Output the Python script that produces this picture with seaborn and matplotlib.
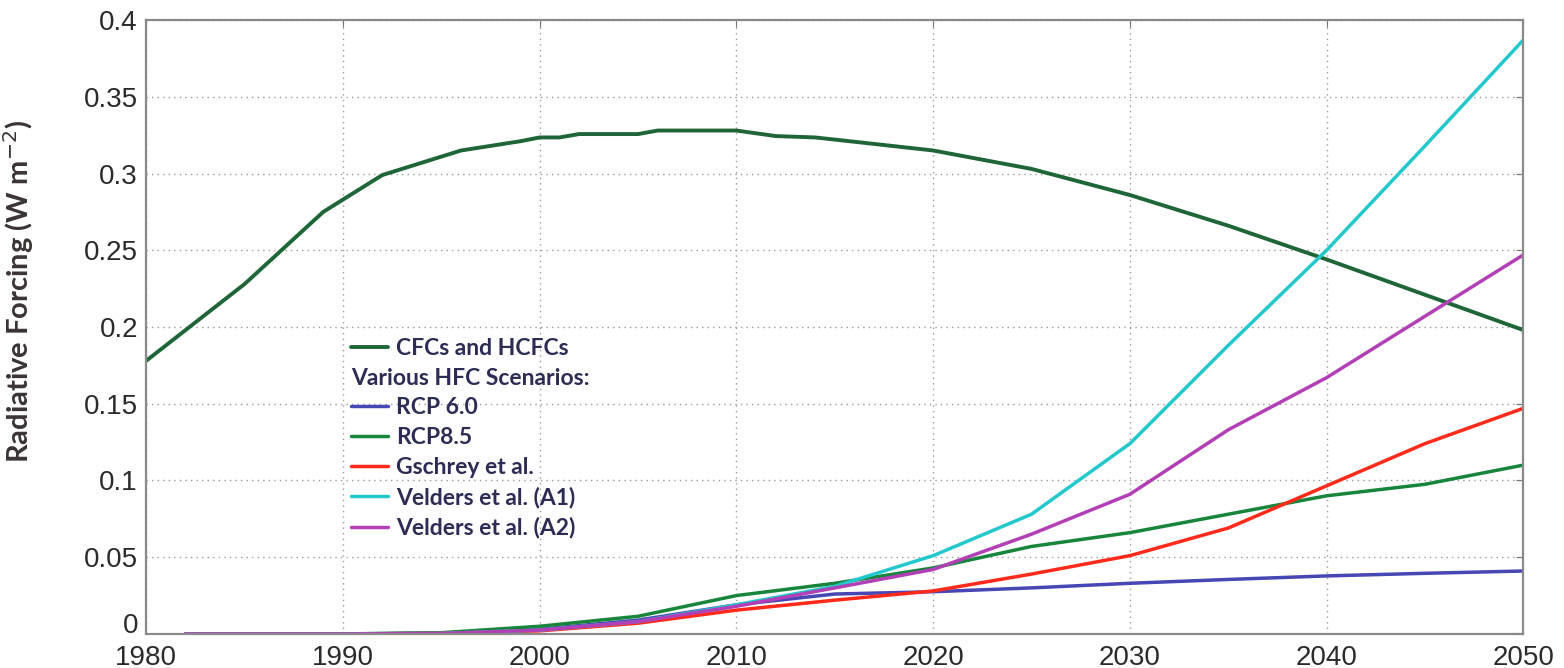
import numpy as np
import pandas as pd
import matplotlib
matplotlib.use("Agg")
import matplotlib.pyplot as plt
import matplotlib.transforms as mtransforms
from matplotlib.lines import Line2D
from matplotlib.ticker import FuncFormatter
import seaborn as sns

# CFCs and HCFCs
cfc_years = [1980, 1985, 1989, 1992, 1996, 1999, 2000, 2001, 2002, 2005, 2006, 2010,
             2012, 2014, 2016, 2020, 2025, 2030, 2035, 2040, 2045, 2050]
cfc_vals = [0.178, 0.228, 0.275, 0.299, 0.315, 0.321, 0.3235, 0.3235, 0.3257, 0.3257, 0.328, 0.328,
            0.3244, 0.3235, 0.3207, 0.315, 0.303, 0.286, 0.266, 0.244, 0.221, 0.198]

# HFC scenarios
hfc_years = [1982, 1990, 1995, 2000, 2005, 2010, 2015, 2020, 2025, 2030, 2035, 2040, 2045, 2050]
rcp60 = [0, 0, 0.0005, 0.003, 0.009, 0.019, 0.026, 0.0275, 0.030, 0.033, 0.0355, 0.0378, 0.0395, 0.041]
rcp85 = [0, 0, 0.0008, 0.005, 0.0115, 0.025, 0.033, 0.043, 0.057, 0.066, 0.078, 0.090, 0.0975, 0.110]
gschrey = [0, 0, 0.0003, 0.002, 0.007, 0.0155, 0.022, 0.028, 0.039, 0.051, 0.069, 0.0965, 0.124, 0.147]
velders_a1 = [0, 0, 0.0003, 0.0025, 0.008, 0.019, 0.031, 0.051, 0.078, 0.124, 0.188, 0.250, 0.318, 0.387]
velders_a2 = [0, 0, 0.0003, 0.0025, 0.008, 0.018, 0.030, 0.042, 0.065, 0.091, 0.133, 0.167, 0.207, 0.247]

hfc_names = ["RCP 6.0", "RCP8.5", "Gschrey et al.", "Velders et al. (A1)", "Velders et al. (A2)"]
hfc_series = [rcp60, rcp85, gschrey, velders_a1, velders_a2]
hfc_colors = ["#4646b4", "#17863c", "#ff2a1a", "#22c8cc", "#b23fb5"]
cfc_color = "#1e6638"

x_ticks = list(range(1980, 2051, 10))
y_ticks = [0, 0.05, 0.1, 0.15, 0.2, 0.25, 0.3, 0.35, 0.4]

sns.set_style("white")
plt.rcParams['font.family'] = ['Liberation Sans', 'DejaVu Sans']

fig = plt.figure(figsize=(15.64, 6.68), dpi=100)
ax = fig.add_axes([0.0935, 0.051, 0.8805, 0.919])

sns.lineplot(x=cfc_years, y=cfc_vals, color=cfc_color, lw=2.8, label="CFCs and HCFCs",
             legend=False, ax=ax)
for name, vals, col in zip(hfc_names, hfc_series, hfc_colors):
    sns.lineplot(x=hfc_years, y=vals, color=col, lw=2.5, label=name, legend=False, ax=ax)

ax.set_xlim(1980, 2050)
ax.set_ylim(0, 0.4)
ax.set_xticks(x_ticks)
ax.set_yticks(y_ticks)
ax.yaxis.set_major_formatter(FuncFormatter(lambda v, p: f"{v:g}"))
ax.grid(True, linestyle=(0, (1, 3)), color="#9a9a9a", linewidth=1.0)
ax.tick_params(axis="both", direction="in", length=5, color="#777777",
               labelsize=20, labelcolor="#2b2b2b", top=True, right=True)
ax.tick_params(axis="x", pad=8)
ax.tick_params(axis="y", pad=6)
for s in ax.spines.values():
    s.set_color("#8a8a8a")
    s.set_linewidth(1.6)

# the zero label sits a little higher, just above the 1980 label
zero_lbl = ax.get_yticklabels()[0]
zero_lbl.set_transform(zero_lbl.get_transform() +
                       mtransforms.ScaledTranslation(0, 8 / 72, fig.dpi_scale_trans))

ax.set_xlabel("")
ax.set_ylabel("Radiative Forcing (W m$^{-2}$)", fontsize=21, fontweight="bold",
              family="Lato", color="#3a3434")
ax.yaxis.set_label_coords(-0.08, 0.557)

handles, labels = ax.get_legend_handles_labels()
heading = Line2D([], [], color="none")
handles = handles[:1] + [heading] + handles[1:]
labels = labels[:1] + ["Various HFC Scenarios:"] + labels[1:]
leg = ax.legend(handles, labels, loc="upper left", bbox_to_anchor=(0.142, 0.497),
                frameon=False, handlelength=1.6, handletextpad=0.35, labelspacing=0.38,
                borderaxespad=0, prop={"family": "Lato", "weight": "bold", "size": 16.5})
for t in leg.get_texts():
    t.set_color("#2c2c55")
# let the heading start where the handles start
for vp in leg._legend_handle_box.get_children():
    for hp in vp.get_children():
        txt = hp.get_children()[1].get_children()[0]
        if txt.get_text() == "Various HFC Scenarios:":
            hp.get_children()[0].width = 0
            hp.sep = 0

fig.savefig("out.png", dpi=100)
